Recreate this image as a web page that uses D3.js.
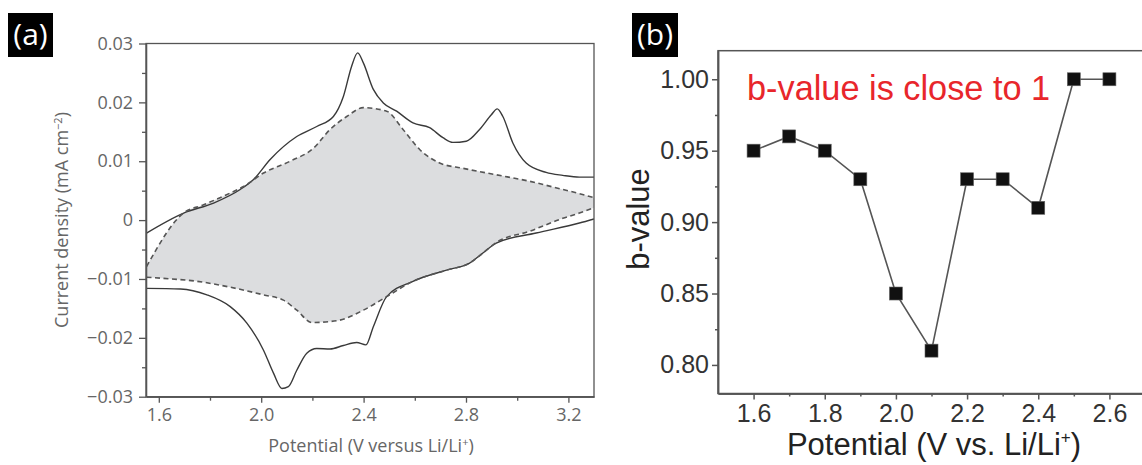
<!DOCTYPE html>
<html>
<head>
<meta charset="utf-8">
<script src="https://cdn.jsdelivr.net/npm/d3@7"></script>
<style>
  html, body { margin: 0; padding: 0; background: #fff; }
  svg { display: block; }
</style>
</head>
<body>
<div id="chart"></div>
<script>
///// DATOS //////
// Panel (a): voltametría cíclica (V, mA cm-2)
let solidAnodicV = [1.552, 1.697, 1.814, 1.918, 1.970, 2.035, 2.139, 2.217, 2.282, 2.321, 2.353, 2.377, 2.399, 2.438, 2.477, 2.529, 2.593, 2.658, 2.710, 2.749, 2.801, 2.853, 2.899, 2.922, 2.944, 2.983, 3.035, 3.113, 3.178, 3.243, 3.300];
let solidAnodicI = [-0.0022, 0.0012, 0.0029, 0.0052, 0.0069, 0.0103, 0.0142, 0.0159, 0.0176, 0.0210, 0.0261, 0.0284, 0.0267, 0.0222, 0.0199, 0.0185, 0.0165, 0.0157, 0.0140, 0.0132, 0.0134, 0.0154, 0.0179, 0.0189, 0.0176, 0.0131, 0.0097, 0.0081, 0.0076, 0.0073, 0.0073];

let solidCathodicV = [1.552, 1.685, 1.788, 1.879, 1.944, 2.009, 2.048, 2.081, 2.106, 2.139, 2.178, 2.217, 2.269, 2.321, 2.373, 2.409, 2.438, 2.490, 2.593, 2.724, 2.814, 2.866, 2.918, 3.074, 3.243, 3.300];
let solidCathodicI = [-0.0116, -0.0117, -0.0127, -0.0147, -0.0175, -0.0221, -0.0260, -0.0286, -0.0283, -0.0255, -0.0226, -0.0218, -0.0219, -0.0213, -0.0208, -0.0212, -0.0181, -0.0130, -0.0104, -0.0085, -0.0073, -0.0056, -0.0039, -0.0022, -0.0005, 0.0002];

let dashAnodicV = [1.552, 1.697, 1.775, 1.879, 1.931, 2.009, 2.113, 2.204, 2.269, 2.334, 2.399, 2.490, 2.554, 2.619, 2.697, 2.788, 2.918, 3.048, 3.178, 3.243, 3.300];
let dashAnodicI = [-0.0079, 0.0012, 0.0026, 0.0046, 0.0057, 0.0080, 0.0100, 0.0122, 0.0154, 0.0176, 0.0191, 0.0185, 0.0154, 0.0120, 0.0097, 0.0088, 0.0077, 0.0066, 0.0052, 0.0045, 0.0038];

let dashCathodicV = [1.552, 1.619, 1.750, 1.879, 2.009, 2.087, 2.139, 2.198, 2.295, 2.399, 2.490, 2.593, 2.724, 2.814, 2.866, 2.918, 3.048, 3.178, 3.243, 3.300];
let dashCathodicI = [-0.0097, -0.0099, -0.0104, -0.0114, -0.0127, -0.0136, -0.0153, -0.0174, -0.0171, -0.0153, -0.0130, -0.0104, -0.0085, -0.0073, -0.0056, -0.0038, -0.0019, 0.0003, 0.0012, 0.0021];

let aXTicks = [1.6, 2.0, 2.4, 2.8, 3.2];
let aXMinor = [1.8, 2.2, 2.6, 3.0];
let aYTicks = [-0.03, -0.02, -0.01, 0, 0.01, 0.02, 0.03];
let aYMinor = [-0.025, -0.015, -0.005, 0.005, 0.015, 0.025];

// Panel (b): b-value
let potentials = [1.6, 1.7, 1.8, 1.9, 2.0, 2.1, 2.2, 2.3, 2.4, 2.5, 2.6];
let bValues = [0.95, 0.96, 0.95, 0.93, 0.85, 0.81, 0.93, 0.93, 0.91, 1.00, 1.00];

let bXTicks = [1.6, 1.8, 2.0, 2.2, 2.4, 2.6];
let bXMinor = [1.7, 1.9, 2.1, 2.3, 2.5];
let bYTicks = [0.80, 0.85, 0.90, 0.95, 1.00];
let bYMinor = [0.825, 0.875, 0.925, 0.975];

///// SVG //////
let width = 1142, height = 465;
let svg = d3.select('#chart').append('svg')
    .attr('width', width)
    .attr('height', height);

let zip = function(xs, ys) { return xs.map(function(d, i) { return [d, ys[i]]; }); };

//// PANEL (a) ////
let aBox = {left: 146, right: 594, top: 43.5, bottom: 396.7};
let fontA = '"Open Sans", "DejaVu Sans", sans-serif';

let xA = d3.scaleLinear().domain([1.55, 3.3]).range([aBox.left, aBox.right]);
let yA = d3.scaleLinear().domain([-0.03, 0.03]).range([aBox.bottom, aBox.top]);

svg.append('clipPath').attr('id', 'clipA')
    .append('rect')
    .attr('x', aBox.left).attr('y', aBox.top)
    .attr('width', aBox.right - aBox.left).attr('height', aBox.bottom - aBox.top);

let lineA = d3.line()
    .x(function(d) { return xA(d[0]); })
    .y(function(d) { return yA(d[1]); })
    .curve(d3.curveMonotoneX);

let gA = svg.append('g').attr('clip-path', 'url(#clipA)');

// relleno gris entre las dos ramas discontinuas
let upperPath = lineA(zip(dashAnodicV, dashAnodicI));
let lowerPath = lineA(zip(dashCathodicV, dashCathodicI).reverse());
gA.append('path')
    .attr('d', upperPath + 'L' + lowerPath.slice(1) + 'Z')
    .attr('fill', '#dcdddf')
    .attr('stroke', 'none');

[zip(solidAnodicV, solidAnodicI), zip(solidCathodicV, solidCathodicI)].forEach(function(data) {
    gA.append('path')
        .attr('d', lineA(data))
        .attr('fill', 'none')
        .attr('stroke', '#3a3a3a')
        .attr('stroke-width', 1.4);
});

[zip(dashAnodicV, dashAnodicI), zip(dashCathodicV, dashCathodicI)].forEach(function(data) {
    gA.append('path')
        .attr('d', lineA(data))
        .attr('fill', 'none')
        .attr('stroke', '#555')
        .attr('stroke-width', 1.6)
        .attr('stroke-dasharray', '5,3.5');
});

// marco
svg.append('rect')
    .attr('x', aBox.left).attr('y', aBox.top)
    .attr('width', aBox.right - aBox.left).attr('height', aBox.bottom - aBox.top)
    .attr('fill', 'none').attr('stroke', '#555').attr('stroke-width', 1.3);

// ejes
let axA_x = svg.append('g').attr('transform', 'translate(0,' + aBox.bottom + ')')
    .call(d3.axisBottom(xA).tickValues(aXTicks).tickSize(6).tickSizeOuter(0).tickPadding(6).tickFormat(d3.format('.1f')));
svg.append('g').attr('transform', 'translate(0,' + aBox.bottom + ')')
    .call(d3.axisBottom(xA).tickValues(aXMinor).tickSize(4).tickSizeOuter(0).tickFormat(''));
let axA_y = svg.append('g').attr('transform', 'translate(' + aBox.left + ',0)')
    .call(d3.axisLeft(yA).tickValues(aYTicks).tickSize(7).tickSizeOuter(0).tickPadding(6)
        .tickFormat(function(d) { return d === 0 ? '0' : d3.format('.2f')(d); }));
svg.append('g').attr('transform', 'translate(' + aBox.left + ',0)')
    .call(d3.axisLeft(yA).tickValues(aYMinor).tickSize(4).tickSizeOuter(0).tickFormat(''));

svg.selectAll('g').filter(function() { return this.getAttribute('transform'); })
    .selectAll('.domain').attr('stroke', '#555').attr('stroke-width', 1.3);

[axA_x, axA_y].forEach(function(ax) {
    ax.selectAll('text').attr('font-family', fontA).attr('font-size', 18).attr('fill', '#666');
});
svg.selectAll('.tick line').attr('stroke', '#555').attr('stroke-width', 1.3);

let xLabA = svg.append('text')
    .attr('x', (aBox.left + aBox.right) / 2 + 1)
    .attr('y', 452)
    .attr('text-anchor', 'middle')
    .attr('font-family', fontA).attr('font-size', 18).attr('fill', '#666');
xLabA.append('tspan').text('Potential (V versus Li/Li');
xLabA.append('tspan').attr('dy', -6).attr('font-size', 11).text('+');
xLabA.append('tspan').attr('dy', 6).text(')');

let yLabA = svg.append('text')
    .attr('transform', 'translate(68,220) rotate(-90)')
    .attr('text-anchor', 'middle')
    .attr('font-family', fontA).attr('font-size', 18).attr('fill', '#666');
yLabA.append('tspan').text('Current density (mA cm');
yLabA.append('tspan').attr('dy', -6).attr('font-size', 11).text('\u22122');
yLabA.append('tspan').attr('dy', 6).text(')');

//// PANEL (b) ////
let bBox = {left: 718, right: 1145, top: 50.7, bottom: 393.5};
let fontB = '"Liberation Sans", Arial, sans-serif';

let xB = d3.scaleLinear().domain([1.5, 2.7]).range([bBox.left, bBox.right]);
let yB = d3.scaleLinear().domain([0.78, 1.02]).range([bBox.bottom, bBox.top]);

svg.append('rect')
    .attr('x', bBox.left).attr('y', bBox.top)
    .attr('width', bBox.right - bBox.left).attr('height', bBox.bottom - bBox.top)
    .attr('fill', 'none').attr('stroke', '#555').attr('stroke-width', 1.5);

let axB_x = svg.append('g').attr('transform', 'translate(0,' + bBox.bottom + ')')
    .call(d3.axisBottom(xB).tickValues(bXTicks).tickSize(6).tickSizeOuter(0).tickPadding(5).tickFormat(d3.format('.1f')));
let axB_xm = svg.append('g').attr('transform', 'translate(0,' + bBox.bottom + ')')
    .call(d3.axisBottom(xB).tickValues(bXMinor).tickSize(3).tickSizeOuter(0).tickFormat(''));
let axB_y = svg.append('g').attr('transform', 'translate(' + bBox.left + ',0)')
    .call(d3.axisLeft(yB).tickValues(bYTicks).tickSize(6).tickSizeOuter(0).tickPadding(3).tickFormat(d3.format('.2f')));
let axB_ym = svg.append('g').attr('transform', 'translate(' + bBox.left + ',0)')
    .call(d3.axisLeft(yB).tickValues(bYMinor).tickSize(3).tickSizeOuter(0).tickFormat(''));

[axB_x, axB_xm, axB_y, axB_ym].forEach(function(ax) {
    ax.select('.domain').attr('stroke', '#555').attr('stroke-width', 1.5);
    ax.selectAll('.tick line').attr('stroke', '#555').attr('stroke-width', 1.5);
    ax.selectAll('text').attr('font-family', fontB).attr('font-size', 25).attr('fill', '#333');
});

let lineB = d3.line()
    .x(function(d) { return xB(d[0]); })
    .y(function(d) { return yB(d[1]); });

svg.append('path')
    .attr('d', lineB(zip(potentials, bValues)))
    .attr('fill', 'none')
    .attr('stroke', '#555')
    .attr('stroke-width', 1.6);

let sq = 13;
svg.selectAll('.marker')
    .data(zip(potentials, bValues))
    .enter()
    .append('rect')
    .attr('class', 'marker')
    .attr('x', function(d) { return xB(d[0]) - sq / 2; })
    .attr('y', function(d) { return yB(d[1]) - sq / 2; })
    .attr('width', sq).attr('height', sq)
    .attr('fill', '#111')
    .attr('stroke', '#666').attr('stroke-width', 0.6);

svg.append('text')
    .attr('x', 747).attr('y', 100)
    .attr('font-family', fontB).attr('font-size', 34.3).attr('fill', '#e8262b')
    .text('b-value is close to 1');

let xLabB = svg.append('text')
    .attr('x', 934).attr('y', 455)
    .attr('text-anchor', 'middle')
    .attr('font-family', fontB).attr('font-size', 31).attr('fill', '#222');
xLabB.append('tspan').text('Potential (V vs. Li/Li');
xLabB.append('tspan').attr('dy', -12).attr('font-size', 17).text('+');
xLabB.append('tspan').attr('dy', 12).text(')');

svg.append('text')
    .attr('transform', 'translate(649,219) rotate(-90)')
    .attr('text-anchor', 'middle')
    .attr('font-family', fontB).attr('font-size', 31).attr('fill', '#222')
    .text('b-value');

//// ETIQUETAS (a) y (b) ////
[{x: 8, w: 45, t: '(a)'}, {x: 632, w: 46, t: '(b)'}].forEach(function(p) {
    svg.append('rect').attr('x', p.x).attr('y', 13).attr('width', p.w).attr('height', 44).attr('fill', '#000');
    svg.append('text')
        .attr('x', p.x + p.w / 2).attr('y', 45)
        .attr('text-anchor', 'middle')
        .attr('font-family', fontA).attr('font-size', 30).attr('fill', '#fff')
        .text(p.t);
});
</script>
</body>
</html>
